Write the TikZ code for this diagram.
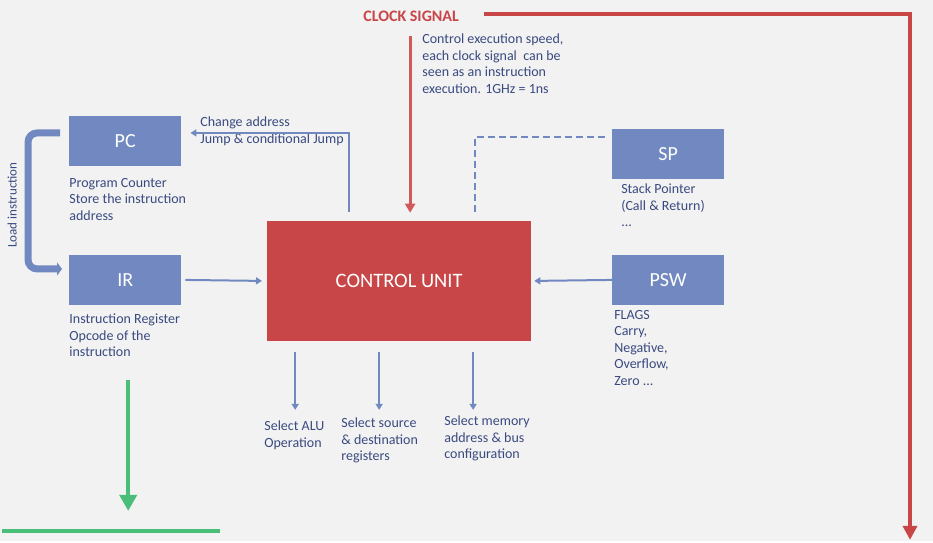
\documentclass[tikz,border=0pt]{standalone}
\usepackage{fontspec}
\setmainfont{Carlito}
\usepackage{xcolor}
\usepackage{tikz}
\usetikzlibrary{
  arrows.meta,
  positioning
}

\definecolor{regblue}{HTML}{7189C0}
\definecolor{cured}{HTML}{C84647}
\definecolor{clockred}{HTML}{D0595A}
\definecolor{notetext}{HTML}{3A4A80}
\definecolor{pagegrey}{HTML}{F2F2F2}
\definecolor{busgreen}{HTML}{48BE79}

\begin{document}
\begin{tikzpicture}[
  x=1pt, y=-1pt,
  node distance=6pt,
  regbox/.style={
    rectangle,
    fill=regblue,
    text=white,
    minimum width=112pt,
    minimum height=50pt,
    font=\fontsize{20}{24}\selectfont
  },
  cubox/.style={
    rectangle,
    fill=cured,
    text=white,
    minimum width=264pt,
    minimum height=120pt,
    font=\fontsize{20.5}{24}\selectfont
  },
  note/.style={
    text=notetext,
    align=left,
    inner sep=0pt,
    font=\fontsize{14}{16.5}\selectfont
  },
  link/.style={
    draw=regblue,
    line width=2pt,
    -{Triangle[length=6pt,width=7pt]}
  },
  dashlink/.style={
    draw=regblue,
    line width=2.5pt,
    dash pattern=on 7pt off 4pt
  },
  loadline/.style={
    draw=regblue,
    line width=7pt,
    rounded corners=9pt,
    -{Triangle[length=5pt,width=13pt]}
  },
  clockline/.style={
    draw=cured,
    line width=4.5pt,
    -{Triangle[length=14pt,width=14pt]}
  },
  clockarrow/.style={
    draw=clockred,
    line width=3pt,
    -{Triangle[length=9pt,width=10pt]}
  },
  busline/.style={
    draw=busgreen,
    line width=4.5pt
  }
]
\fill[pagegrey] (0,0) rectangle (933,541);

% registers and the control unit
\node[regbox] (pc) at (125,141) {PC};
\node[regbox] (ir) at (125,280) {IR};
\node[regbox] (sp) at (668,154) {SP};
\node[regbox] (psw) at (668,280) {PSW};
\node[cubox] (cu) at (399,281) {CONTROL UNIT};

% notes under the registers
\node[note, anchor=north west] (pc-note) at (69,178) {Program Counter\\Store the instruction\\address};
\node[note, anchor=north west] (ir-note) at (69,314) {Instruction Register\\Opcode of the\\instruction};
\node[note, anchor=north west] (sp-note) at (621,184) {Stack Pointer\\(Call \& Return)\\...};
\node[note, anchor=north west] (psw-note) at (614,310) {FLAGS\\Carry,\\Negative,\\Overflow,\\Zero ...};

% clock
\node[text=cured, font=\fontsize{16}{18}\selectfont\bfseries] (clock) at (411,16) {CLOCK SIGNAL};
\node[note, anchor=north west] (clock-note) at (422,34) {Control execution speed,\\each clock signal\ \ can be\\seen as an instruction\\execution. 1GHz = 1ns};
\coordinate (clock-end) at (910,540);
\coordinate (clock-tap) at (410,36);
\draw[clockline] ([xshift=22pt,yshift=2pt]clock.east) -| (clock-end);
\draw[clockarrow, shorten >=8pt] (clock-tap) -- (clock-tap |- cu.north);

% jump back to the program counter
\node[note, anchor=north west] (jump-note) at (200,117) {Change address\\Jump \& conditional Jump};
\draw[link] ([xshift=-50pt,yshift=9pt]cu.north) |- ([xshift=9pt,yshift=8pt]pc.east);

% stack pointer, dashed
\draw[dashlink] ([xshift=-7pt,yshift=17pt]sp.west) -| ([xshift=76pt,yshift=6pt]cu.north);

% load instruction
\draw[loadline] ([xshift=-9pt,yshift=8pt]pc.west) -- ++(-32,0) |- ([xshift=-7pt,yshift=11pt]ir.west);
\node[note, rotate=90, font=\fontsize{13}{15}\selectfont] (load-note) at (12,205) {Load instruction};

% inputs to the control unit
\draw[link] ([xshift=4pt]ir.east) -- ([xshift=-5pt]cu.west);
\draw[link] (psw.west) -- ([xshift=3pt]cu.east);

% outputs of the control unit
\node[note, anchor=north west] (alu-note) at (264,421) {Select ALU\\Operation};
\node[note, anchor=north west] (reg-note) at (341,418) {Select source\\\& destination\\registers};
\node[note, anchor=north west] (mem-note) at (444,416) {Select memory\\address \& bus\\configuration};
\coordinate (alu-tap) at (295,410);
\coordinate (reg-tap) at (379,410);
\coordinate (mem-tap) at (473,410);
\foreach \tap in {alu-tap, reg-tap, mem-tap}
  \draw[link] ([yshift=-11pt]cu.south -| \tap) -- (\tap);

% bus
\coordinate (bus-top) at (128,380);
\coordinate (bus-tip) at (128,511);
\coordinate (bus-left) at (2,531);
\coordinate (bus-right) at (220,531);
\draw[busline, -{Triangle[length=16pt,width=17pt]}] (bus-top) -- (bus-tip);
\draw[busline] (bus-left) -- (bus-right);
\end{tikzpicture}
\end{document}
